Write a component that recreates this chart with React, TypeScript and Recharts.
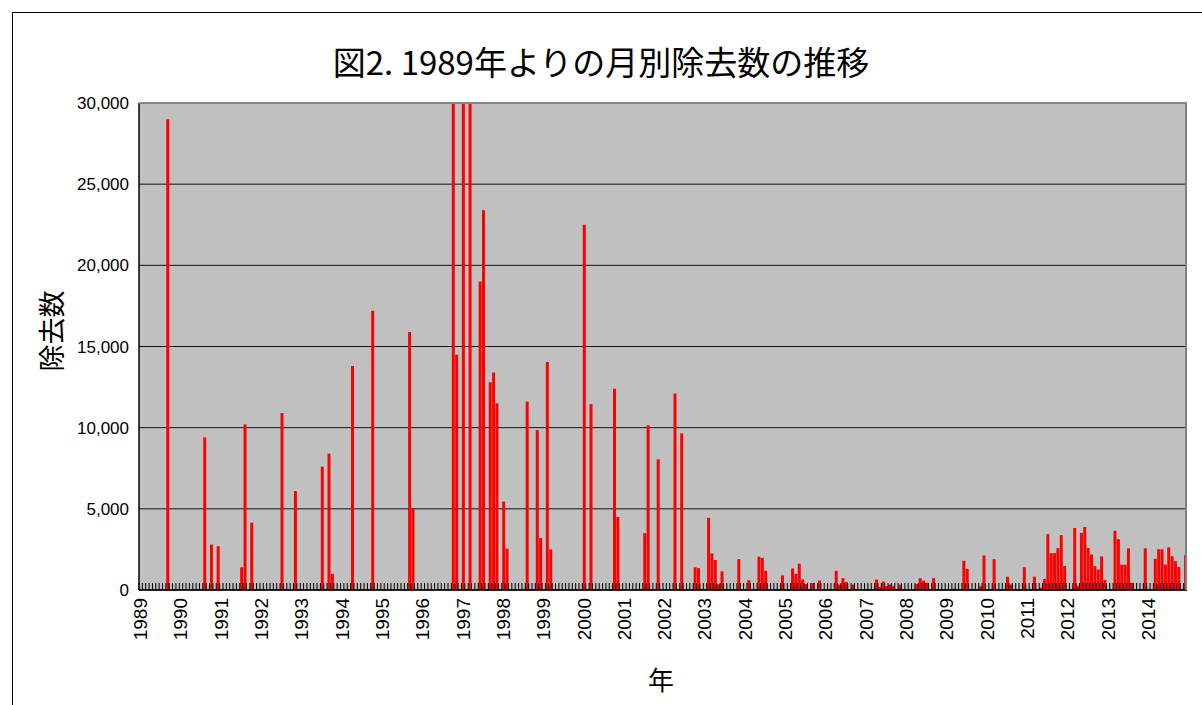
import { BarChart, Bar, XAxis, YAxis, CartesianGrid } from 'recharts';

// monthly removal counts, Jan..Dec of each year
const years = [1989, 1990, 1991, 1992, 1993, 1994, 1995, 1996, 1997, 1998, 1999, 2000, 2001,
  2002, 2003, 2004, 2005, 2006, 2007, 2008, 2009, 2010, 2011, 2012, 2013, 2014];

const y1989 = [0, 0, 0, 0, 0, 0, 0, 0, 29000, 0, 0, 0];
const y1990 = [0, 0, 0, 0, 0, 0, 0, 9400, 0, 2800, 0, 2700];
const y1991 = [0, 0, 0, 0, 0, 0, 1400, 10200, 0, 4150, 0, 0];
const y1992 = [0, 0, 0, 0, 0, 0, 10900, 0, 0, 0, 6100, 0];
const y1993 = [0, 0, 0, 0, 0, 0, 7600, 0, 8400, 1000, 0, 0];
const y1994 = [0, 0, 0, 13800, 0, 0, 0, 0, 0, 17200, 0, 0];
const y1995 = [0, 0, 0, 0, 0, 0, 0, 0, 15900, 5000, 0, 0];
const y1996 = [0, 0, 0, 0, 0, 0, 0, 0, 0, 41000, 14500, 0];
const y1997 = [36000, 0, 47000, 0, 0, 19000, 23400, 0, 12800, 13400, 11500, 0];
const y1998 = [5450, 2550, 0, 0, 0, 0, 0, 11600, 0, 0, 9850, 3200];
const y1999 = [0, 14050, 2500, 0, 0, 0, 0, 0, 0, 0, 0, 0];
const y2000 = [22500, 0, 11450, 0, 0, 0, 0, 0, 0, 12400, 4500, 0];
const y2001 = [0, 0, 0, 0, 0, 0, 3500, 10150, 0, 0, 8050, 0];
const y2002 = [0, 0, 0, 12100, 0, 9650, 0, 0, 0, 1400, 1350, 0];
const y2003 = [0, 4450, 2250, 1850, 350, 1150, 0, 0, 0, 0, 1900, 0];
const y2004 = [0, 600, 0, 0, 2050, 1980, 1180, 0, 0, 0, 0, 900];
const y2005 = [0, 0, 1330, 1000, 1620, 650, 370, 0, 430, 0, 580, 0];
const y2006 = [0, 0, 0, 1180, 330, 730, 500, 0, 330, 0, 0, 0];
const y2007 = [0, 0, 0, 640, 190, 520, 250, 330, 250, 0, 330, 0];
const y2008 = [0, 0, 0, 370, 730, 580, 450, 0, 730, 0, 0, 0];
const y2009 = [0, 0, 80, 0, 0, 1800, 1300, 0, 60, 0, 230, 2120];
const y2010 = [0, 0, 1900, 0, 0, 0, 820, 340, 0, 0, 0, 1400];
const y2011 = [0, 0, 820, 0, 150, 680, 3440, 2270, 2270, 2580, 3380, 1480];
const y2012 = [0, 0, 3820, 250, 3520, 3880, 2590, 2190, 1470, 1260, 2070, 620];
const y2013 = [0, 0, 3650, 3130, 1560, 1560, 2570, 440, 0, 0, 0, 2570];
const y2014 = [0, 0, 1920, 2510, 2510, 1570, 2630, 2080, 1780, 1420, 0, 2150];

const monthly = [y1989, y1990, y1991, y1992, y1993, y1994, y1995, y1996, y1997, y1998, y1999,
  y2000, y2001, y2002, y2003, y2004, y2005, y2006, y2007, y2008, y2009, y2010, y2011, y2012,
  y2013, y2014];

const yTicks = [0, 5000, 10000, 15000, 20000, 25000, 30000];

const data = years.flatMap((yr, i) =>
  monthly[i].map((v, m) => ({ month: `${yr}/${m + 1}`, count: v })));

const W = 1202;
const H = 705;
const PLOT_L = 139;
const PLOT_T = 103;
const PLOT_W = 1048;
const PLOT_H = 487;
const band = PLOT_W / data.length;

const jp = '"Noto Sans CJK JP", sans-serif';
const num = '"Liberation Sans", Arial, sans-serif';

function MonthTick({ x, y, payload }: { x?: number; y?: number; payload?: { value: string } }) {
  const [yr, mo] = String(payload?.value ?? '').split('/');
  const lx = (x ?? 0) - band / 2;
  const ty = (y ?? 0) + 8;
  return (
    <g>
      <line x1={lx} x2={lx} y1={y} y2={(y ?? 0) - 7} stroke="#000" strokeWidth={1} />
      {mo === '1' && (
        <text x={x} y={ty} transform={`rotate(-90 ${x} ${ty})`} textAnchor="end"
          dominantBaseline="central" fontSize={19} fontFamily={num} fill="#000">
          {yr}
        </text>
      )}
    </g>
  );
}

export default function App() {
  return (
    <div style={{ position: 'absolute', left: 0, top: 0, width: W, height: H, background: '#fff', overflow: 'hidden' }}>
      <div style={{
        position: 'absolute', left: 12, top: 12, width: W, height: H,
        borderLeft: '1px solid #000', borderTop: '1px solid #000',
      }} />
      <div style={{
        position: 'absolute', left: 0, width: W, top: 38, textAlign: 'center',
        fontFamily: jp, fontSize: 33, lineHeight: '46px', color: '#000',
      }}>
        図2. 1989年よりの月別除去数の推移
      </div>
      <div style={{
        position: 'absolute', left: 51, top: 331, transform: 'translate(-50%, -50%) rotate(-90deg)',
        fontFamily: jp, fontSize: 27, lineHeight: '30px', whiteSpace: 'nowrap', color: '#000',
      }}>
        除去数
      </div>
      <div style={{
        position: 'absolute', left: 661, top: 679, transform: 'translate(-50%, -50%)',
        fontFamily: jp, fontSize: 26, lineHeight: '30px', color: '#000',
      }}>
        年
      </div>
      <div style={{ position: 'absolute', left: 0, top: 0 }}>
        <BarChart width={W} height={H} data={data} barCategoryGap="12%"
          margin={{ top: PLOT_T, right: W - PLOT_L - PLOT_W, bottom: H - PLOT_T - PLOT_H - 60, left: PLOT_L - 80 }}>
          <CartesianGrid fill="#c0c0c0" vertical={false} stroke="#000" strokeOpacity={0.9} />
          <XAxis dataKey="month" interval={0} height={60} tickLine={false} tickSize={0} tickMargin={0}
            axisLine={{ stroke: '#000', strokeWidth: 1.5 }} tick={<MonthTick />} />
          <YAxis width={80} domain={[0, 30000]} ticks={yTicks} allowDataOverflow tickLine={false}
            tickSize={0} tickMargin={10} axisLine={{ stroke: '#000', strokeWidth: 1.5 }}
            tickFormatter={(v: number) => v.toLocaleString('en-US')}
            tick={{ fontSize: 17, fontFamily: num, fill: '#000' }} />
          <Bar dataKey="count" fill="#ff0000" isAnimationActive={false} />
        </BarChart>
      </div>
      <div style={{
        position: 'absolute', left: PLOT_L, top: PLOT_T, width: PLOT_W, height: PLOT_H,
        borderTop: '1px solid #808080', borderRight: '2px solid #808080', boxSizing: 'border-box',
        pointerEvents: 'none',
      }} />
    </div>
  );
}
